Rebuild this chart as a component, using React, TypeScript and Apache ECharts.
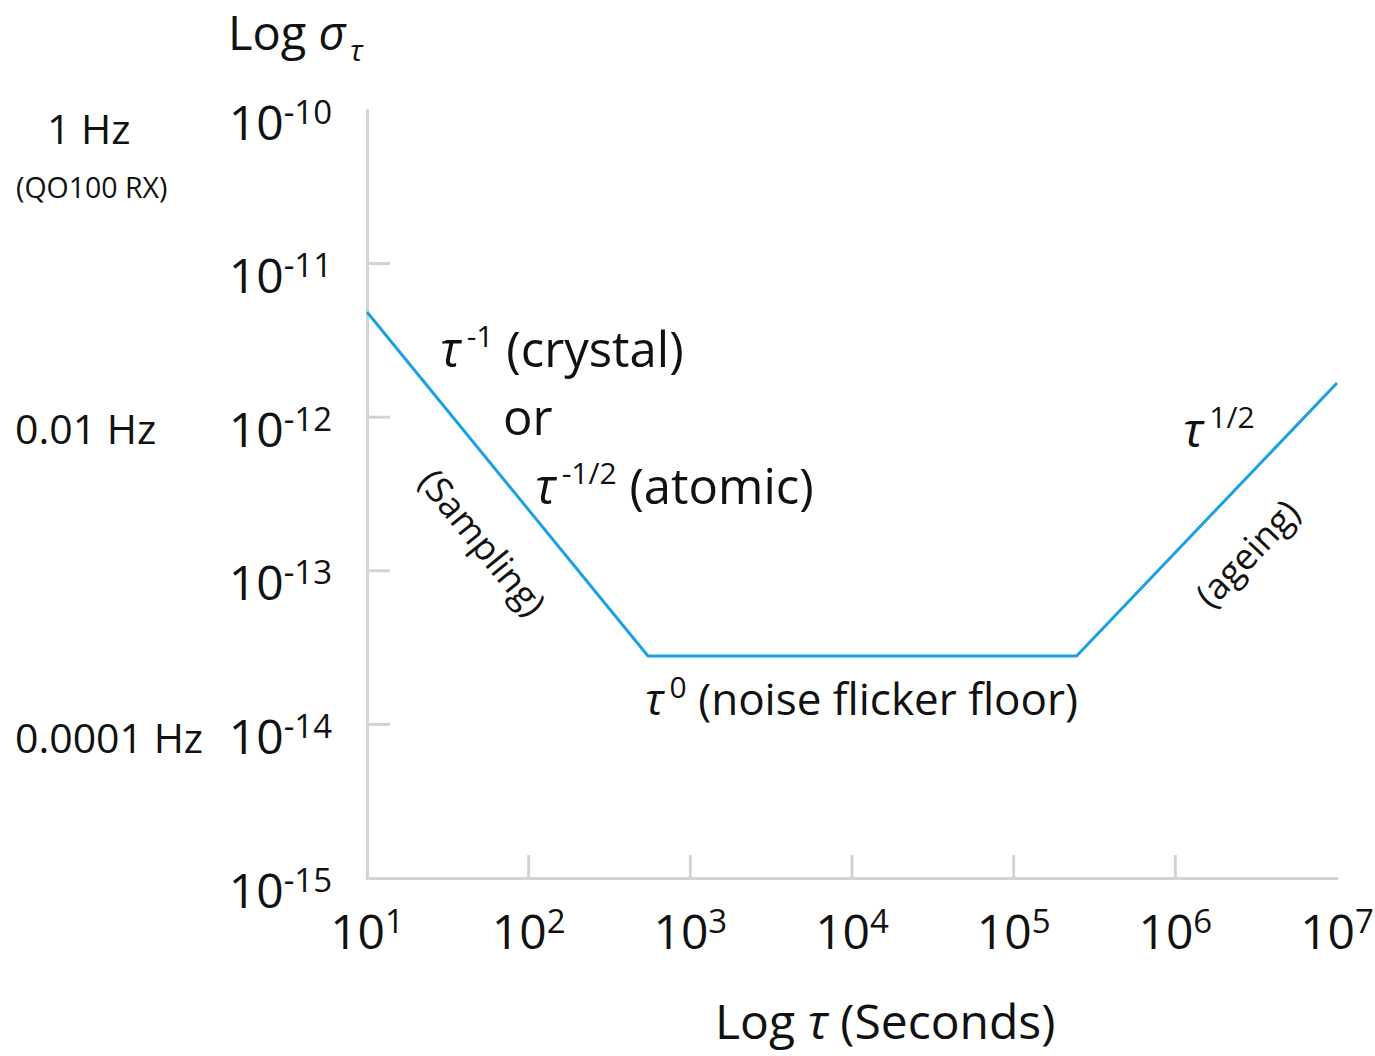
import React, { useEffect, useRef } from "react";
import * as echarts from "echarts";

// ---- data ----
const tauPoints = [10, 547, 245000, 1e7];
const sigmaPoints = [4.84e-12, 2.79e-14, 2.79e-14, 1.67e-12];
const xMin = 10;
const xMax = 1e7;
const yMin = 1e-15;
const yMax = 1e-10;
const xInnerTicks = [1e2, 1e3, 1e4, 1e5, 1e6];
const yInnerTicks = [1e-11, 1e-12, 1e-13, 1e-14];

const FONT = "'Open Sans', sans-serif";
const TXT = "#111";
const AXIS = "#d3d3d3";
const LINE = "#1ba1e2";

const tickRich = {
  b: { fontSize: 48, lineHeight: 48, fontFamily: FONT, color: TXT },
  s: { fontSize: 33, lineHeight: 33, padding: [0, 0, 20, 0], fontFamily: FONT, color: TXT },
};

const expLabel = (v: number) => {
  const e = Math.round(Math.log10(v));
  return `{b|10}{s|${e}}`;
};

function makeRich(size: number) {
  return {
    t: { fontSize: size, lineHeight: size, fontFamily: FONT, fontStyle: "italic", fill: TXT },
    n: { fontSize: size, lineHeight: size, fontFamily: FONT, fill: TXT },
    s: { fontSize: 30, lineHeight: 30, padding: [0, 0, 24, 6], fontFamily: FONT, fill: TXT },
  };
}

function annText(x: number, y: number, text: string, size = 48) {
  return {
    type: "text",
    x,
    y,
    silent: true,
    style: {
      text,
      align: "left",
      verticalAlign: "bottom",
      fontFamily: FONT,
      fontSize: size,
      fill: TXT,
      rich: makeRich(size),
    },
  };
}

function plainText(x: number, y: number, text: string, size: number, italic = false) {
  return {
    type: "text",
    x,
    y,
    silent: true,
    style: {
      text,
      align: "left",
      verticalAlign: "bottom",
      fontFamily: FONT,
      fontSize: size,
      fontStyle: italic ? "italic" : "normal",
      lineHeight: size,
      fill: TXT,
    },
  };
}

function rotText(x: number, y: number, text: string, rotation: number) {
  return {
    type: "text",
    x,
    y,
    rotation,
    silent: true,
    style: {
      text,
      align: "center",
      verticalAlign: "middle",
      fontFamily: FONT,
      fontSize: 36,
      fill: TXT,
    },
  };
}

export default function App() {
  const ref = useRef<HTMLDivElement>(null);
  useEffect(() => {
    const chart = echarts.init(ref.current!, null, { renderer: "svg" });
    const option: any = {
      animation: false,
      backgroundColor: "#fff",
      grid: { left: 367, right: 38, top: 110, bottom: 178, outerBoundsMode: "none" },
      xAxis: {
        type: "log",
        logBase: 10,
        min: xMin,
        max: xMax,
        interval: 1,
        axisLine: { show: true, lineStyle: { color: AXIS, width: 3 } },
        axisTick: { show: false },
        splitLine: { show: false },
        axisLabel: {
          formatter: expLabel,
          rich: tickRich,
          margin: 28,
          showMinLabel: true,
          showMaxLabel: true,
        },
      },
      yAxis: {
        type: "log",
        logBase: 10,
        min: yMin,
        max: yMax,
        interval: 1,
        axisLine: { show: true, lineStyle: { color: AXIS, width: 3 } },
        axisTick: { show: false },
        splitLine: { show: false },
        axisLabel: {
          formatter: expLabel,
          rich: tickRich,
          margin: 35,
          padding: [22, 0, 0, 0],
          showMinLabel: true,
          showMaxLabel: true,
        },
      },
      series: [
        {
          type: "custom",
          silent: true,
          data: xInnerTicks.map((v) => [v, yMin]),
          renderItem: (params: any, api: any) => {
            const p = api.coord([api.value(0), api.value(1)]);
            return {
              type: "line",
              shape: { x1: p[0], y1: p[1], x2: p[0], y2: p[1] - 23 },
              style: { stroke: AXIS, lineWidth: 3 },
            };
          },
        },
        {
          type: "custom",
          silent: true,
          data: yInnerTicks.map((v) => [xMin, v]),
          renderItem: (params: any, api: any) => {
            const p = api.coord([api.value(0), api.value(1)]);
            return {
              type: "line",
              shape: { x1: p[0], y1: p[1], x2: p[0] + 23, y2: p[1] },
              style: { stroke: AXIS, lineWidth: 3 },
            };
          },
        },
        {
          type: "line",
          data: tauPoints.map((t, i) => [t, sigmaPoints[i]]),
          showSymbol: false,
          symbol: "none",
          lineStyle: { color: LINE, width: 3 },
          z: 5,
        },
      ],
      graphic: [
        annText(228, 55, "{n|Log }{t|σ}", 47),
        plainText(350, 64, "τ", 30, true),
        annText(1183, 452, "{t|τ}{s|1/2}"),
        annText(440, 372, "{t|τ}{s|-1}{n| (crystal)}", 49),
        annText(503, 440, "{n|or}", 49),
        annText(535, 509, "{t|τ}{s|-1/2}{n| (atomic)}", 49),
        annText(645, 720, "{t|τ}{s|0}{n| (noise flicker floor)}", 44),
        annText(715, 1044, "{n|Log }{t|τ}{n| (Seconds)}"),
        plainText(47, 148, "1 Hz", 41),
        plainText(16, 201, "(QO100 RX)", 28.5),
        plainText(15, 448, "0.01 Hz", 41),
        plainText(15, 757, "0.0001 Hz", 41),
        rotText(483, 542, "(Sampling)", -0.887),
        rotText(1247, 553, "(ageing)", 0.81),
      ],
    };
    chart.setOption(option);
    return () => chart.dispose();
  }, []);
  return (
    <div
      ref={ref}
      style={{ position: "fixed", left: 0, top: 0, width: 1375, height: 1056, background: "#fff" }}
    />
  );
}
